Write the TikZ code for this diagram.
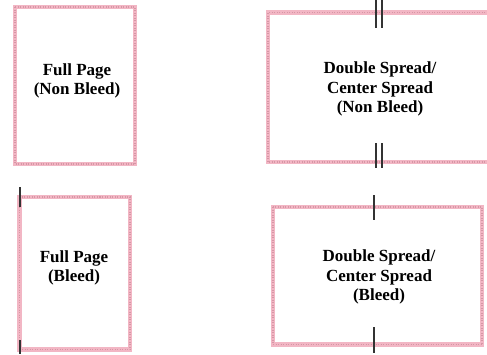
\documentclass[tikz,border=0pt]{standalone}
\usepackage{fontspec}
\setmainfont{Liberation Serif}
\definecolor{trimpink}{RGB}{242,182,196}
\definecolor{trimdot}{RGB}{214,150,165}
\tikzset{
    trimline/.style={line width=4.5pt, draw=trimpink, line join=miter,
        postaction={draw=trimdot, line width=1.5pt, dash pattern=on 1pt off 1.5pt}},
    cutmark/.style={line width=2.2pt, draw=black!80},
    pagelabel/.style={align=center, font=\bfseries\fontsize{17}{19.5}\selectfont}
}
\begin{document}
\begin{tikzpicture}[x=1pt, y=-1pt]
    \useasboundingbox (0, 0) rectangle (487, 354);

    % full page, non bleed
    \draw[trimline] (15, 7) rectangle (135, 164);
    \node[pagelabel] (fullnb) at (77, 81) {Full Page\\(Non Bleed)};

    % double spread, non bleed (runs off to the right)
    \draw[trimline] (495, 12.5) -- (268, 12.5) -- (268, 162) -- (495, 162);
    \foreach \x in {376, 382}
    {\draw[cutmark] (\x, 0) -- (\x, 28);
     \draw[cutmark] (\x, 143) -- (\x, 168);}
    \node[pagelabel] (doublenb) at (380, 89) {Double Spread/\\Center Spread\\(Non Bleed)};

    % full page, bleed
    \draw[trimline] (19.5, 197) rectangle (130, 349.5);
    \draw[cutmark] (20, 187) -- (20, 207);
    \draw[cutmark] (20, 340) -- (20, 354);
    \node[pagelabel] (fullb) at (74, 268) {Full Page\\(Bleed)};

    % double spread, bleed
    \draw[trimline] (273, 207) rectangle (482, 344.5);
    \draw[cutmark] (374, 195) -- (374, 220);
    \draw[cutmark] (374, 327) -- (374, 353);
    \node[pagelabel] (doubleb) at (379, 277) {Double Spread/\\Center Spread\\(Bleed)};
\end{tikzpicture}
\end{document}
